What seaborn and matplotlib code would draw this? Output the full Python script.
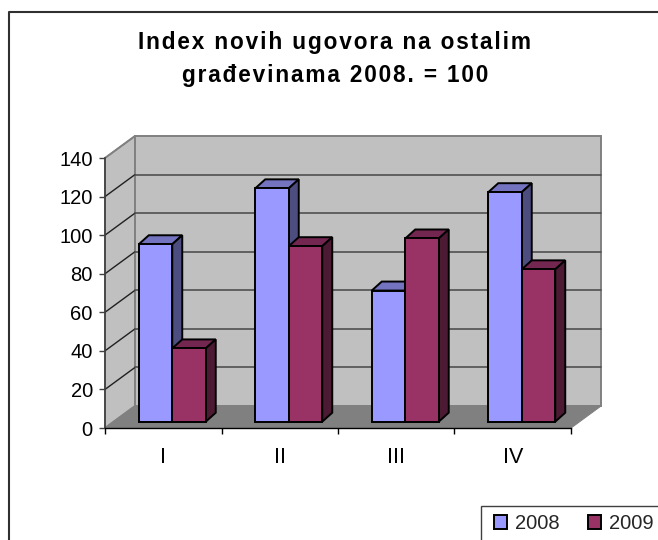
import seaborn as sns
import pandas as pd
import numpy as np
import matplotlib.pyplot as plt
from matplotlib.patches import Polygon, Rectangle
from matplotlib.transforms import Affine2D

quarters = ["I", "II", "III", "IV"]
values_2008 = [92, 121, 68, 119]
values_2009 = [38, 91, 95, 79]
yticks = [0, 20, 40, 60, 80, 100, 120, 140]
title = "Index novih ugovora na ostalim\ngrađevinama 2008. = 100"

df = pd.DataFrame({
    "kvartal": quarters * 2,
    "index": values_2008 + values_2009,
    "godina": ["2008"] * 4 + ["2009"] * 4,
})

sns.set_theme(style="white")
plt.rcParams['font.family'] = ['Liberation Sans Narrow', 'Liberation Sans', 'DejaVu Sans']

W, H = 658, 540
fig = plt.figure(figsize=(W / 100, H / 100), dpi=100)
fig.patch.set_facecolor("white")
# front plane of the 3d box, in pixels
ax = fig.add_axes([105 / W, 1 - 428 / H, 466 / W, 270 / H])
ax.patch.set_visible(False)

sns.barplot(data=df, x="kvartal", y="index", hue="godina", order=quarters,
            palette=["#9999FF", "#993366"], width=0.575, gap=0, saturation=1,
            edgecolor="black", linewidth=1.4, ax=ax, legend=False)
ax.set_xlim(-0.5, 3.5)
ax.set_ylim(0, 140)
ax.set_xlabel("")
ax.set_ylabel("")
fig.canvas.draw()

DX, DY = 30, 22
BAR_DX, BAR_DY = 9, 6.3
SIDE_DX, SIDE_DY = 10, 9
shades = {"2008": ("#7373BF", "#4D4D80"), "2009": ("#732650", "#4D1A33")}


def pt(x, y, d=0.0):
    px, py = ax.transData.transform((x, y))
    return (px + d * DX, py + d * DY)


def shape(points, **kw):
    ax.add_patch(Polygon(points, closed=True, transform=None, clip_on=False, **kw))


# walls and floor
shape([pt(-0.5, 0), pt(-0.5, 140), pt(-0.5, 140, 1), pt(-0.5, 0, 1)],
      facecolor="#C0C0C0", edgecolor="#808080", linewidth=1.4, zorder=0.1)
shape([pt(-0.5, 0, 1), pt(-0.5, 140, 1), pt(3.5, 140, 1), pt(3.5, 0, 1)],
      facecolor="#C0C0C0", edgecolor="#808080", linewidth=1.4, zorder=0.1)
shape([pt(-0.5, 0), pt(3.5, 0), pt(3.5, 0, 1), pt(-0.5, 0, 1)],
      facecolor="#808080", edgecolor="#808080", linewidth=0.8, zorder=0.2)
for t in yticks[1:]:
    a, b, c = pt(-0.5, t), pt(-0.5, t, 1), pt(3.5, t, 1)
    ax.plot([a[0], b[0]], [a[1], b[1]], transform=None,
            color="#808080" if t == 140 else "#202020", lw=1, clip_on=False, zorder=0.3)
    if t < 140:
        ax.plot([b[0], c[0]], [b[1], c[1]], transform=None, color="#505050", lw=1.2, clip_on=False, zorder=0.3)

# bars: seaborn draws the fronts, sides and tops follow each one
bars = [p for p in ax.patches if isinstance(p, Rectangle) and p.get_width() > 0]
bars = [b for b in bars if b.get_height() > 0]
bars.sort(key=lambda b: b.get_x())
shift = Affine2D().translate(BAR_DX, BAR_DY)
for i, bar in enumerate(bars):
    x0, x1 = bar.get_x(), bar.get_x() + bar.get_width()
    h = bar.get_height()
    year = "2008" if i % 2 == 0 else "2009"
    top, side = shades[year]
    l = pt(x0, h)
    r = pt(x1, h)
    b = pt(x1, 0)
    l, r, b = [(p[0] + BAR_DX, p[1] + BAR_DY) for p in (l, r, b)]
    z = 2 + i
    shape([l, r, (r[0] + SIDE_DX, r[1] + SIDE_DY), (l[0] + SIDE_DX, l[1] + SIDE_DY)],
          facecolor=top, edgecolor="black", linewidth=1.4, zorder=z)
    shape([r, b, (b[0] + SIDE_DX, b[1] + SIDE_DY), (r[0] + SIDE_DX, r[1] + SIDE_DY)],
          facecolor=side, edgecolor="black", linewidth=1.4, zorder=z)
    bar.set_transform(ax.transData + shift)
    bar.set_clip_on(False)
    bar.set_zorder(z + 0.5)

sns.despine(ax=ax)
ax.spines["left"].set_color("#404040")
ax.spines["left"].set_linewidth(1.2)
ax.spines["bottom"].set_color("black")
ax.spines["bottom"].set_linewidth(1.0)
ax.spines["left"].set_zorder(1)
ax.spines["bottom"].set_zorder(1)

ax.set_yticks(yticks)
ax.set_xticks(range(4), quarters)
ax.set_xticks([-0.5, 0.5, 1.5, 2.5, 3.5], minor=True)
ax.tick_params(axis="y", left=True, length=4.3, width=1, color="#404040", labelsize=14.5, pad=4.5, labelcolor="black",
               labelfontfamily="Liberation Sans")
ax.tick_params(axis="x", which="major", bottom=False, labelsize=15.5, pad=8, labelcolor="black")
ax.tick_params(axis="x", which="minor", bottom=True, length=4, width=1, color="black")

# letter spacing of the original title
spaced = "\n".join("\u200a".join(line) for line in title.split("\n"))
fig.text(335 / W, 1 - 59 / H, spaced, ha="center", va="center", fontsize=16.3,
         fontweight="bold", color="black", linespacing=1.6)

# chart frame
fig.add_artist(plt.Line2D([9 / W, 9 / W, 1], [0, 1 - 12 / H, 1 - 12 / H],
                          color="#303030", lw=1.5))

# legend box, cut by the image edges like the original
fig.add_artist(Rectangle((481 / W, 0 - 10 / H), 200 / W, (H + 10 - 505.5) / H, transform=fig.transFigure,
                         facecolor="white", edgecolor="#404040", linewidth=1.0))
handles = [Rectangle((0, 0), 1, 1, facecolor=c, edgecolor="black", linewidth=1.4)
           for c in ["#9999FF", "#993366"]]
leg = fig.legend(handles, ["2008", "2009"], ncols=2, loc="upper left",
                 bbox_to_anchor=(494 / W, 1 - 514 / H), frameon=False, borderpad=0,
                 prop={"family": "Liberation Sans", "size": 14.5},
                 handlelength=0.67, handleheight=0.67, handletextpad=0.37, columnspacing=1.4,
                 borderaxespad=0)

fig.savefig("out.png", dpi=100)
